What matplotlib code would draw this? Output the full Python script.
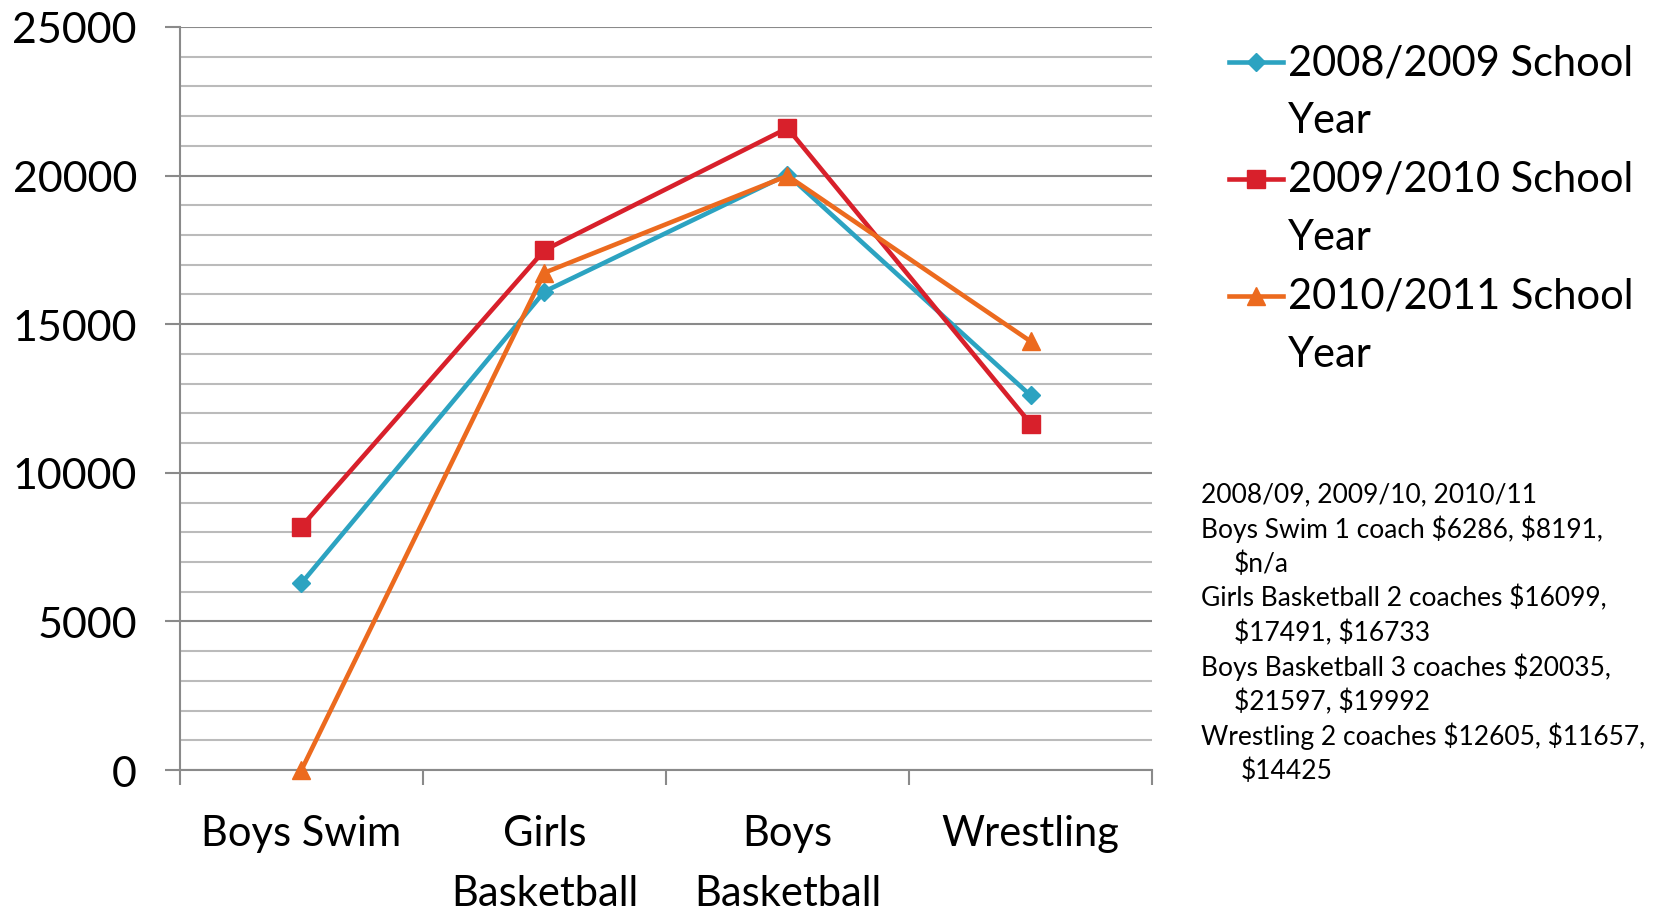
import matplotlib
matplotlib.use("Agg")
import matplotlib.pyplot as plt
from matplotlib.lines import Line2D
from matplotlib.ticker import MultipleLocator

plt.rcParams['font.family'] = ['Lato', 'DejaVu Sans']

categories = ['Boys Swim', 'Girls\nBasketball', 'Boys\nBasketball', 'Wrestling']
series_names = ['2008/2009 School', '2009/2010 School', '2010/2011 School']
y_2008 = [6286, 16099, 20035, 12605]
y_2009 = [8191, 17491, 21597, 11657]
y_2010 = [0, 16733, 19992, 14425]
colors = ['#2CA3C1', '#D8202B', '#EC6A1E']
markers = ['D', 's', '^']
msizes = [9, 13, 13]

notes = [
    ('2008/09, 2009/10, 2010/11', 0),
    ('Boys Swim 1 coach \\$6286, \\$8191,', 0),
    ('\\$n/a', 1),
    ('Girls Basketball 2 coaches \\$16099,', 0),
    ('\\$17491, \\$16733', 1),
    ('Boys Basketball 3 coaches \\$20035,', 0),
    ('\\$21597, \\$19992', 1),
    ('Wrestling 2 coaches \\$12605, \\$11657,', 0),
    ('\\$14425', 2),
]


def run():
    fig = plt.figure(figsize=(16.54, 9.12), dpi=100)
    ax = fig.add_axes([0.1088, 0.1546, 0.5877, 0.8147])

    x = list(range(len(categories)))
    all_y = [y_2008, y_2009, y_2010]
    for ys, c, m, ms in zip(all_y, colors, markers, msizes):
        ax.plot(x, ys, color=c, lw=3.3, marker=m, markersize=ms, zorder=3,
                clip_on=False)

    ax.set_xlim(-0.5, 3.5)
    ax.set_ylim(0, 25000)
    ax.yaxis.set_major_locator(MultipleLocator(5000))
    ax.yaxis.set_minor_locator(MultipleLocator(1000))
    ax.grid(axis='y', which='major', color='#8a8a8a', lw=1.5)
    ax.grid(axis='y', which='minor', color='#bbbbbb', lw=1.5)
    ax.set_axisbelow(True)

    ax.set_xticks(x)
    ax.set_xticklabels(categories, fontsize=30, linespacing=1.7, va='top')
    ax.set_xticks([-0.5, 0.5, 1.5, 2.5, 3.5], minor=True)
    ax.tick_params(axis='x', which='major', length=0, pad=32)
    ax.tick_params(axis='x', which='minor', length=11, width=1.5, color='#8a8a8a')
    ax.tick_params(axis='y', which='major', length=11, width=1.5, color='#8a8a8a',
                   labelsize=31, pad=20)
    ax.tick_params(axis='y', which='minor', length=0)

    for s in ['top', 'right']:
        ax.spines[s].set_visible(False)
    for s in ['left', 'bottom']:
        ax.spines[s].set_color('#8a8a8a')
        ax.spines[s].set_linewidth(1.5)

    # legend drawn by hand so the marker sits on the first line of each label
    leg_y = [1 - 63 / 912, 1 - 180 / 912, 1 - 297 / 912]
    x0, x1 = 1229 / 1654, 1283 / 1654
    for name, c, m, ms, yy in zip(series_names, colors, markers, msizes, leg_y):
        fig.add_artist(Line2D([x0, (x0 + x1) / 2, x1], [yy, yy, yy], color=c, lw=3.3,
                              marker=m, markersize=ms, markevery=[1],
                              transform=fig.transFigure))
        fig.text(1288 / 1654, yy, name, fontsize=30, va='center', ha='left')
        fig.text(1288 / 1654, yy - 58 / 912, 'Year', fontsize=30, va='center', ha='left')

    for i, (line, indent) in enumerate(notes):
        yy = 1 - (495 + i * 34.5) / 912
        xx = (1201 + [0, 33, 40][indent]) / 1654
        fig.text(xx, yy, line, fontsize=19, va='center', ha='left')

    fig.savefig('out.png', dpi=100)


if __name__ == "__main__":
    run()
